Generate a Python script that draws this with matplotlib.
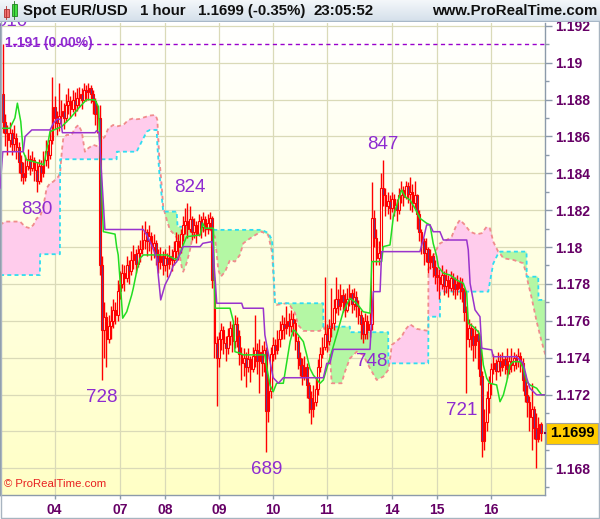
import numpy as np
import matplotlib.pyplot as plt
from matplotlib.colors import LinearSegmentedColormap
from matplotlib.patches import Rectangle
from matplotlib.transforms import blended_transform_factory

# prices are stored in pips above BASE
BASE, PIP = 1.16, 0.0001

first_open = 283
close_pips = [
    268, 262, 258, 262, 256, 259, 254, 246, 240, 238,
    244, 248, 243, 247, 242, 236, 244, 240, 247, 252,
    250, 258, 276, 270, 267, 271, 274, 270, 277, 279,
    275, 280, 277, 281, 283, 280, 285, 284, 286, 283,
    279, 272, 270, 190, 155, 162, 150, 157, 160, 166,
    163, 176, 180, 186, 183, 190, 187, 193, 196, 191,
    197, 199, 204, 208, 203, 206, 200, 202, 196, 192,
    195, 190, 194, 191, 195, 193, 198, 203, 200, 207,
    212, 214, 210, 215, 208, 212, 207, 214, 211, 215,
    210, 213, 216, 182, 148, 140, 150, 155, 148, 145,
    152, 156, 149, 158, 152, 142, 137, 140, 135, 139,
    134, 141, 144, 138, 143, 137, 144, 111, 122, 142,
    147, 144, 150, 155, 158, 156, 160, 157, 161, 159,
    149, 140, 136, 130, 135, 125, 118, 112, 116, 123,
    135, 142, 146, 153, 149, 156, 159, 167, 172, 168,
    174, 170, 166, 172, 175, 169, 173, 168, 163, 158,
    153, 160, 155, 158, 216, 205, 194, 197, 232, 228,
    222, 225, 221, 226, 223, 220, 228, 231, 227, 233,
    229, 230, 224, 228, 218, 208, 203, 197, 199, 192,
    195, 189, 185, 184, 180, 185, 179, 182, 178, 183,
    180, 177, 181, 178, 176, 165, 150, 156, 152, 147,
    153, 149, 130, 95, 105, 118, 126, 134, 137, 133,
    138, 135, 139, 136, 134, 138, 136, 140, 138, 141,
    137, 128, 120, 116, 108, 112, 102, 96, 104, 99,
]
high_pips = [
    310, 272, 266, 268, 264, 266, 262, 257, 250, 246,
    250, 253, 250, 252, 249, 246, 248, 247, 252, 258,
    256, 264, 292, 282, 274, 289, 280, 278, 283, 286,
    282, 285, 284, 286, 287, 286, 289, 288, 289, 288,
    285, 281, 277, 277, 195, 170, 165, 163, 168, 172,
    170, 182, 187, 191, 190, 195, 193, 198, 201, 199,
    201, 204, 212, 214, 210, 212, 208, 207, 204, 199,
    200, 198, 199, 197, 201, 199, 203, 208, 207, 210,
    217, 221, 224, 222, 217, 216, 214, 218, 217, 219,
    217, 218, 219, 217, 184, 152, 154, 159, 157, 152,
    156, 160, 158, 163, 162, 155, 146, 145, 143, 145,
    141, 146, 163, 148, 150, 147, 149, 146, 129, 146,
    151, 150, 155, 160, 163, 162, 168, 164, 166, 164,
    161, 152, 143, 140, 141, 137, 127, 122, 125, 129,
    139, 146, 151, 184, 158, 161, 178, 172, 184, 177,
    180, 177, 175, 178, 180, 177, 178, 176, 171, 166,
    162, 164, 163, 165, 235, 220, 210, 203, 240, 247,
    232, 230, 228, 230, 229, 226, 232, 236, 233, 236,
    235, 238, 234, 236, 229, 220, 210, 205, 205, 200,
    199, 197, 193, 189, 188, 190, 187, 188, 185, 187,
    186, 184, 185, 184, 183, 178, 168, 161, 159, 156,
    157, 155, 152, 133, 112, 122, 130, 137, 142, 139,
    143, 142, 143, 141, 145, 141, 145, 143, 142, 145,
    143, 140, 131, 125, 119, 126, 114, 110, 108, 105,
]
low_pips = [
    262, 255, 250, 254, 250, 252, 248, 240, 236, 234,
    236, 242, 239, 241, 236, 230, 234, 235, 238, 244,
    243, 248, 256, 264, 261, 263, 266, 264, 268, 272,
    270, 273, 271, 274, 276, 275, 279, 279, 280, 278,
    272, 266, 262, 185, 128, 140, 135, 148, 150, 156,
    158, 160, 172, 178, 176, 181, 180, 185, 188, 186,
    189, 192, 196, 199, 195, 198, 193, 194, 190, 186,
    188, 185, 187, 184, 188, 187, 190, 194, 193, 197,
    203, 207, 205, 208, 204, 205, 202, 206, 205, 208,
    206, 207, 209, 178, 140, 114, 135, 144, 142, 138,
    142, 147, 143, 145, 146, 136, 128, 130, 124, 132,
    127, 132, 135, 131, 121, 130, 132, 89, 105, 118,
    138, 139, 142, 146, 150, 150, 153, 152, 154, 152,
    144, 134, 130, 125, 128, 118, 110, 104, 108, 114,
    120, 132, 140, 144, 143, 147, 151, 155, 164, 163,
    166, 165, 162, 165, 168, 164, 166, 162, 158, 150,
    148, 150, 150, 151, 155, 200, 190, 190, 195, 222,
    217, 218, 215, 219, 217, 214, 218, 224, 222, 226,
    224, 220, 219, 221, 210, 203, 196, 190, 192, 186,
    188, 184, 180, 176, 172, 177, 174, 175, 173, 176,
    174, 172, 174, 172, 170, 160, 121, 146, 144, 138,
    140, 134, 125, 86, 90, 100, 110, 120, 131, 128,
    132, 130, 133, 131, 129, 131, 132, 133, 134, 135,
    132, 122, 116, 108, 100, 90, 96, 80, 94, 95,
]

# Kijun (purple) and Tenkan (green) vertices: bar index, pips
kijun_x = [-1.3, -0.1, 9, 9.8, 12.8, 20.9, 22.4, 23.9, 25.6, 26.4,
           40.9, 41.6, 42.7, 45.3, 62.4, 63.9, 66.1, 68.3, 69, 70.1,
           72, 74.2, 75.7, 77.2, 80.1, 87.6, 88.8, 92.8, 93.3, 95,
           106.1, 106.8, 115.7, 116.4, 117.5, 120.1, 122.4, 124.6, 142.4, 143.9,
           145.3, 146.8, 163.1, 164.6, 167.6, 168.3, 185.3, 186.8, 188.3, 189.8,
           191.2, 194.2, 195.7, 206.1, 206.8, 207.6, 209.8, 212, 212.8, 217.2,
           217.9, 228.3, 231.2, 232.8, 234.2, 237.2, 241]
kijun_p = [232, 251.7, 251.7, 259.9, 263.5, 263.5, 267.1, 269.3, 269.3, 262,
           262, 263.1, 262, 209.5, 209.5, 206.5, 201, 194, 184.8, 171.3,
           179.4, 184.8, 190, 192, 200.2, 200.2, 202, 202.9, 200, 169.5,
           169.5, 166.8, 166.8, 152.3, 145, 129.1, 126.1, 129.1, 129.1, 136.9,
           136.9, 144.5, 144.5, 175.8, 175.8, 197.5, 197.5, 204, 212, 212,
           208.3, 208.3, 203.8, 203.8, 198.4, 180.3, 165.9, 162.2, 145.1, 144.2,
           140.5, 140.5, 137, 128.8, 123.4, 119.8, 119.8]

tenkan_x = [-0.1, 3.1, 5.3, 6.4, 7.9, 9, 10.5, 16.4, 18.2, 19.4,
            20.9, 26.1, 29.8, 34.2, 37.2, 40.9, 42.4, 44.6, 49.8, 50.5,
            51.2, 52.3, 53.2, 55, 57.2, 57.9, 59.4, 60.9, 62.4, 72.8,
            77.2, 78.7, 80.1, 81.6, 87.6, 88.8, 89.8, 93.5, 94.2, 100.9,
            102.4, 103.1, 105.3, 106.8, 116.4, 117.2, 118.7, 120.1, 121.6, 124.6,
            127.6, 129, 129.8, 133.5, 135, 136.4, 137.9, 140.9, 142.4, 143.9,
            145.3, 148.3, 151.2, 154.2, 157.2, 160.1, 163.1, 163.9, 168.3, 169,
            172, 173.5, 175.7, 177.2, 178.7, 180.9, 183.1, 185.3, 188.3, 189.8,
            191.2, 192.8, 193.5, 195.7, 198.7, 201.6, 204.6, 206.1, 206.8, 209,
            211.2, 212, 213.5, 215, 216.4, 219.4, 220.9, 222.4, 223.9, 225.3,
            226.8, 229.8, 231.2, 232.8, 234.2, 237.2, 239.4, 240.5]
tenkan_p = [264.4, 264.4, 270, 278, 268, 251.7, 247.2, 245.4, 244.5, 252.6,
            262.6, 265.3, 269.8, 276.1, 280, 279.8, 276.1, 208.3, 207, 200.2,
            195.7, 177.6, 161.4, 164.9, 174, 177.6, 186.6, 193.9, 195.7, 195.7,
            193, 196.6, 201.1, 205.6, 206.5, 212.9, 210.2, 210.2, 166.8, 166.8,
            159.5, 143.2, 142.4, 141.5, 141.5, 135, 125, 121.5, 126.1, 126.1,
            148.7, 155, 154.5, 148.7, 141.5, 134.2, 130.6, 126.1, 127.9, 134.2,
            139.7, 152.3, 164.9, 172.2, 169.5, 164.9, 164.1, 192.1, 192.1, 200.2,
            201.1, 216.5, 225.5, 231, 227.3, 225.5, 221, 215.6, 212.9, 212,
            202, 194.8, 189.3, 185.8, 184.8, 182.1, 180.3, 175, 158.6, 156.8,
            154.1, 152.3, 136, 128.8, 126.1, 125.2, 116.1, 119.8, 127, 136,
            137.8, 137.8, 134.2, 127, 125.2, 123.4, 119.8, 119.8]

# Senkou span A (salmon) and B (cyan), shifted cloud, sampled at common bars
cloud_x = [-1.3, 0.9, 7.6, 9.8, 12, 13.5, 15, 16.4, 16.5, 17.9,
           19.4, 20.9, 22.4, 24.6, 25.3, 25.4, 26.2, 26.8, 28.3, 30.5,
           32, 33.5, 35, 36.4, 37.9, 40.1, 42.4, 43.9, 45.3, 46.8,
           49, 50.5, 50.6, 53.5, 55.7, 57.9, 59.4, 60.9, 62.4, 63.9,
           65.3, 67.6, 68.3, 68.6, 69.5, 70.5, 71.2, 72.8, 74.2, 76.4,
           77.2, 77.6, 77.9, 79.4, 80.1, 81.6, 83.1, 84.6, 86.1, 92.8,
           93.3, 94.2, 95.7, 96.8, 98.7, 100.9, 103.1, 105.3, 106.8, 109.8,
           112.8, 115, 117.9, 119.6, 120.9, 121.6, 126.1, 127.6, 129.8, 131.2,
           133.5, 140.9, 142.3, 142.4, 143.9, 145.3, 146.1, 150.5, 152, 154.2,
           154.3, 157.2, 160.1, 163.1, 166.1, 169, 171.2, 171.3, 172.3, 172.8,
           175, 177.2, 178.7, 180.9, 183.9, 189, 189.1, 189.8, 190.5, 194.2,
           194.3, 197.2, 199.4, 201.6, 203.1, 205.3, 207.6, 210.5, 212.8, 215,
           215.7, 216.4, 217.9, 220.1, 220.9, 222.4, 226.8, 231.2, 232.7, 232.8,
           235, 237.2, 237.9, 238, 239.4, 241.3]
span_a_p = [212, 213.8, 213.8, 211, 210.2, 212, 215.6, 216.5, 216.5, 221.9,
            231.9, 234.6, 235.5, 238.2, 240, 240.5, 252.6, 259, 260.8, 260.8,
            264.4, 266.2, 262.6, 251.7, 253.6, 255.4, 254.5, 258.1, 259.9, 264.4,
            266.2, 265.5, 265.4, 266.2, 268.9, 269.8, 269.3, 269.5, 270.2, 270.8,
            271.3, 271.6, 270, 268.9, 248.1, 233.7, 221.9, 214.7, 209.3, 206.5,
            205, 203, 200.2, 189.3, 186.6, 191.2, 198.4, 207.5, 209, 209,
            207, 205.6, 187.6, 183.9, 186.6, 193, 192.1, 195.7, 202, 204.7,
            207, 208.3, 206.5, 197, 169.5, 168.6, 169.5, 168.2, 164.1, 157.7,
            154.5, 154.5, 156.8, 156.8, 152.3, 141.5, 126.1, 126.1, 132.4, 139.7,
            139.7, 143.2, 141.5, 134.2, 127.9, 129.7, 133.3, 133.5, 141.5, 146.9,
            149, 151.4, 155, 158.1, 155.6, 154.5, 188, 190.3, 193.9, 202,
            202, 203.8, 205.6, 212, 214.7, 212, 208.3, 206.9, 207.5, 211,
            210.6, 210.2, 202.9, 197.5, 196.5, 193.9, 193, 191.2, 185, 183.5,
            172.2, 159.5, 156, 155.5, 148.7, 140.5]
span_b_p = [184.8, 184.8, 184.8, 184.8, 184.8, 184.8, 184.8, 184.8, 196.1, 196.1,
            196.1, 196.1, 196.1, 196.1, 196.1, 247.6, 247.6, 247.6, 247.6, 247.6,
            247.6, 247.6, 247.6, 247.6, 247.6, 247.6, 247.6, 247.6, 247.6, 247.6,
            247.6, 247.6, 251.7, 251.7, 251.7, 251.7, 251.7, 255.4, 259, 262.6,
            263.5, 263.5, 263.5, 255, 240, 228, 219.2, 219.2, 219.2, 219.2,
            219.2, 211, 211, 211, 211, 211, 211, 211, 211, 211,
            209.3, 209.3, 209.3, 209.3, 209.3, 209.3, 209.3, 209.3, 209.3, 209.3,
            209.3, 209.3, 207.6, 203.8, 169.5, 169.5, 169.5, 169.5, 169.5, 169.5,
            169.5, 169.5, 169.5, 156.8, 156.8, 156.8, 156.8, 156.8, 156.8, 156.8,
            153.8, 153.8, 153.8, 153.8, 153.8, 153.8, 153.8, 136.9, 136.9, 136.9,
            136.9, 136.9, 136.9, 136.9, 136.9, 136.9, 162.2, 162.2, 162.2, 162.2,
            175.8, 175.8, 175.8, 175.8, 175.8, 175.8, 175.8, 175.8, 175.8, 175.8,
            175.8, 181, 191, 196.5, 197.5, 197.5, 197.5, 197.5, 197.5, 183.9,
            183.9, 183.9, 183.9, 171.3, 171.3, 171.3]

day_bars = [23, 52, 72, 96, 120, 144, 173, 193, 217]
day_labels = ['04', '07', '08', '09', '10', '11', '14', '15', '16']

pivot_bars = [4, 15, 44, 83, 117, 164, 169, 204]
pivot_labels = ['910', '830', '728', '824', '689', '748', '847', '721']
pivot_is_high = [True, False, False, True, False, False, True, False]

ref_level = 1.191
last_price = 1.1699

# ---------------------------------------------------------------
def to_price(p):
    return BASE + np.asarray(p, dtype=float) * PIP

closes = to_price(close_pips)
highs = to_price(high_pips)
lows = to_price(low_pips)
opens = np.concatenate([[to_price(first_open)], closes[:-1]])
highs = np.maximum(highs, np.maximum(opens, closes))
lows = np.minimum(lows, np.minimum(opens, closes))
bars = np.arange(len(closes))

cx = np.array(cloud_x)
span_a = to_price(span_a_p)
span_b = to_price(span_b_p)

W, H = 600, 519
fig = plt.figure(figsize=(W / 100, H / 100), dpi=100)
fig.patch.set_facecolor('white')

ax = fig.add_axes([0, 1 - 495 / H, 545 / W, (495 - 23) / H])
xlim = (-1.33, 240.9)
ylim = (1.16655, 1.19215)
ax.set_xlim(*xlim)
ax.set_ylim(*ylim)

bg = LinearSegmentedColormap.from_list('bg', ['#FFFFFF', '#FFFFC6'])
ax.imshow(np.linspace(0, 1, 256).reshape(-1, 1), cmap=bg, aspect='auto',
          extent=[xlim[0], xlim[1], ylim[0], ylim[1]], origin='upper', zorder=0)

# grid
for b in day_bars:
    ax.axvline(b, color='#DADAB8', lw=0.9, zorder=0.5)
for lv in np.arange(1.168, 1.1921, 0.002):
    ax.axhline(lv, color='#DADAB8', lw=0.9, zorder=0.5)

# cloud
ax.fill_between(cx, span_a, span_b, where=span_a >= span_b, interpolate=True,
                color='#FFCCEC', lw=0, zorder=1)
ax.fill_between(cx, span_a, span_b, where=span_a < span_b, interpolate=True,
                color='#B4F7A4', lw=0, zorder=1)
ax.plot(cx, span_a, color='#F08C8C', lw=1.3, dashes=(2.2, 1.8), zorder=2)
ax.plot(cx, span_b, color='#30DDF0', lw=1.3, dashes=(2.2, 1.8), zorder=2)

# candles
up = closes >= opens
ax.vlines(bars, lows, highs, color='#FF0000', lw=1.0, zorder=3)
body_lo = np.minimum(opens, closes)
body_h = np.maximum(np.abs(closes - opens), 0.00004)
ax.bar(bars[up], body_h[up], bottom=body_lo[up], width=0.85,
       facecolor='#FFFFE8', edgecolor='#FF0000', lw=0.8, zorder=3.2)
ax.bar(bars[~up], body_h[~up], bottom=body_lo[~up], width=0.85,
       facecolor='#5A3C90', edgecolor='#FF0000', lw=0.8, zorder=3.2)

# tenkan / kijun
ax.plot(tenkan_x, to_price(tenkan_p), color='#22DD22', lw=1.1, zorder=4)
ax.plot(kijun_x, to_price(kijun_p), color='#9933CC', lw=1.1, zorder=4)

# reference level
ax.plot([0.9, xlim[1]], [ref_level, ref_level], color='#9900CC', lw=1.0,
        dashes=(3, 2.5), zorder=4)
ax.text(0.009, 0.957, '1.191 (0.00%)', transform=ax.transAxes, color='#8E2BD0',
        fontsize=10, fontweight='bold', family='Liberation Sans', va='center',
        ha='left', zorder=5)

# pivot labels
for b, lab, hi in zip(pivot_bars, pivot_labels, pivot_is_high):
    price = 1.1 + int(lab) * PIP
    gap = 10 if lab == '910' else (5 if hi else -7)
    ax.annotate(lab, xy=(b, price), xytext=(0, gap), textcoords='offset points',
                ha='center', va='bottom' if hi else 'top', fontsize=13.5,
                color='#8E2BD0', family='Liberation Sans', zorder=5,
                annotation_clip=False)

ax.text(0.008, 0.012, '\u00a9 ProRealTime.com', transform=ax.transAxes,
        color='#E82020', fontsize=8.2, family='Liberation Sans', va='bottom',
        ha='left', zorder=5)

# axes styling
ax.spines['top'].set_visible(False)
for side in ['left', 'right', 'bottom']:
    ax.spines[side].set_color('#8C9AAA')
    ax.spines[side].set_linewidth(1.0)

yt = np.round(np.arange(1.168, 1.1921, 0.002), 3)
ax.yaxis.tick_right()
ax.set_yticks(yt)
ax.set_yticks(np.round(np.arange(1.167, 1.1921, 0.001), 3), minor=True)
# 1.17 sits under the last-price box, as in the original
ax.set_yticklabels(['' if abs(v - last_price) < 0.0008 else ('%.3f' % v).rstrip('0')
                    for v in yt])
ax.tick_params(axis='y', which='major', length=5, width=1, color='#8C9AAA',
               labelcolor='#660066', labelsize=10, pad=2)
ax.tick_params(axis='y', which='minor', length=3, width=1, color='#8C9AAA')
ax.set_xticks(day_bars)
ax.set_xticklabels(day_labels)
ax.tick_params(axis='x', length=3, width=1, color='#8C9AAA', labelcolor='#660066',
               labelsize=10, pad=3)
for lab in ax.get_xticklabels() + ax.get_yticklabels():
    lab.set_fontweight('bold')
    lab.set_family('Liberation Sans')

# last price box
tr = blended_transform_factory(ax.transAxes, ax.transData)
ax.plot([1.0, 1.012], [last_price, last_price], transform=tr, color='#660066',
        lw=1.5, clip_on=False, zorder=6)
ax.text(1.0495, last_price, '%.4f' % last_price, transform=tr, ha='center',
        va='center', fontsize=10.5, fontweight='bold', family='Liberation Sans',
        color='black', zorder=7,
        bbox=dict(boxstyle='square,pad=0.25', facecolor='#FFCC00',
                  edgecolor='#A0A0A0', lw=0.8))

# header bar
hax = fig.add_axes([0, 1 - 22 / H, 1, 22 / H], zorder=10)
hax.set_xlim(0, W)
hax.set_ylim(22, 0)
hax.axis('off')
hg = LinearSegmentedColormap.from_list('hg', ['#F4F7FA', '#D3DFEA'])
hax.imshow(np.linspace(0, 1, 64).reshape(-1, 1), cmap=hg, aspect='auto',
           extent=[0, W, 22, 0], origin='upper')
hax.axhline(21.5, color='#A8B8C8', lw=1)
hax.add_patch(Rectangle((3.5, 9), 5, 8, facecolor='#F07070', edgecolor='#B03030', lw=0.6))
hax.plot([6, 6], [6, 19], color='#B03030', lw=0.6)
hax.add_patch(Rectangle((11.5, 4), 5, 12, facecolor='#40E040', edgecolor='#208020', lw=0.6))
hax.plot([14, 14], [1.5, 19], color='#208020', lw=0.6)
hstyle = dict(fontsize=10.8, fontweight='bold', family='Liberation Sans',
              color='#101010', va='center')
hax.text(23, 11.5, 'Spot EUR/USD', ha='left', **hstyle)
hax.text(140, 11.5, '1 hour', ha='left', **hstyle)
hax.text(198, 11.5, '1.1699 (-0.35%)', ha='left', **hstyle)
hax.text(313, 11.5, '23:05:52', ha='left', **hstyle)
hax.text(597, 11.5, 'www.ProRealTime.com', ha='right', **hstyle)

# outer frame
fig.add_artist(Rectangle((0.5 / W, 1.5 / H), 598 / W, (H - 2) / H, transform=fig.transFigure,
                         fill=False, edgecolor='#A8B4C0', lw=1))

fig.savefig('out.png', dpi=100)
